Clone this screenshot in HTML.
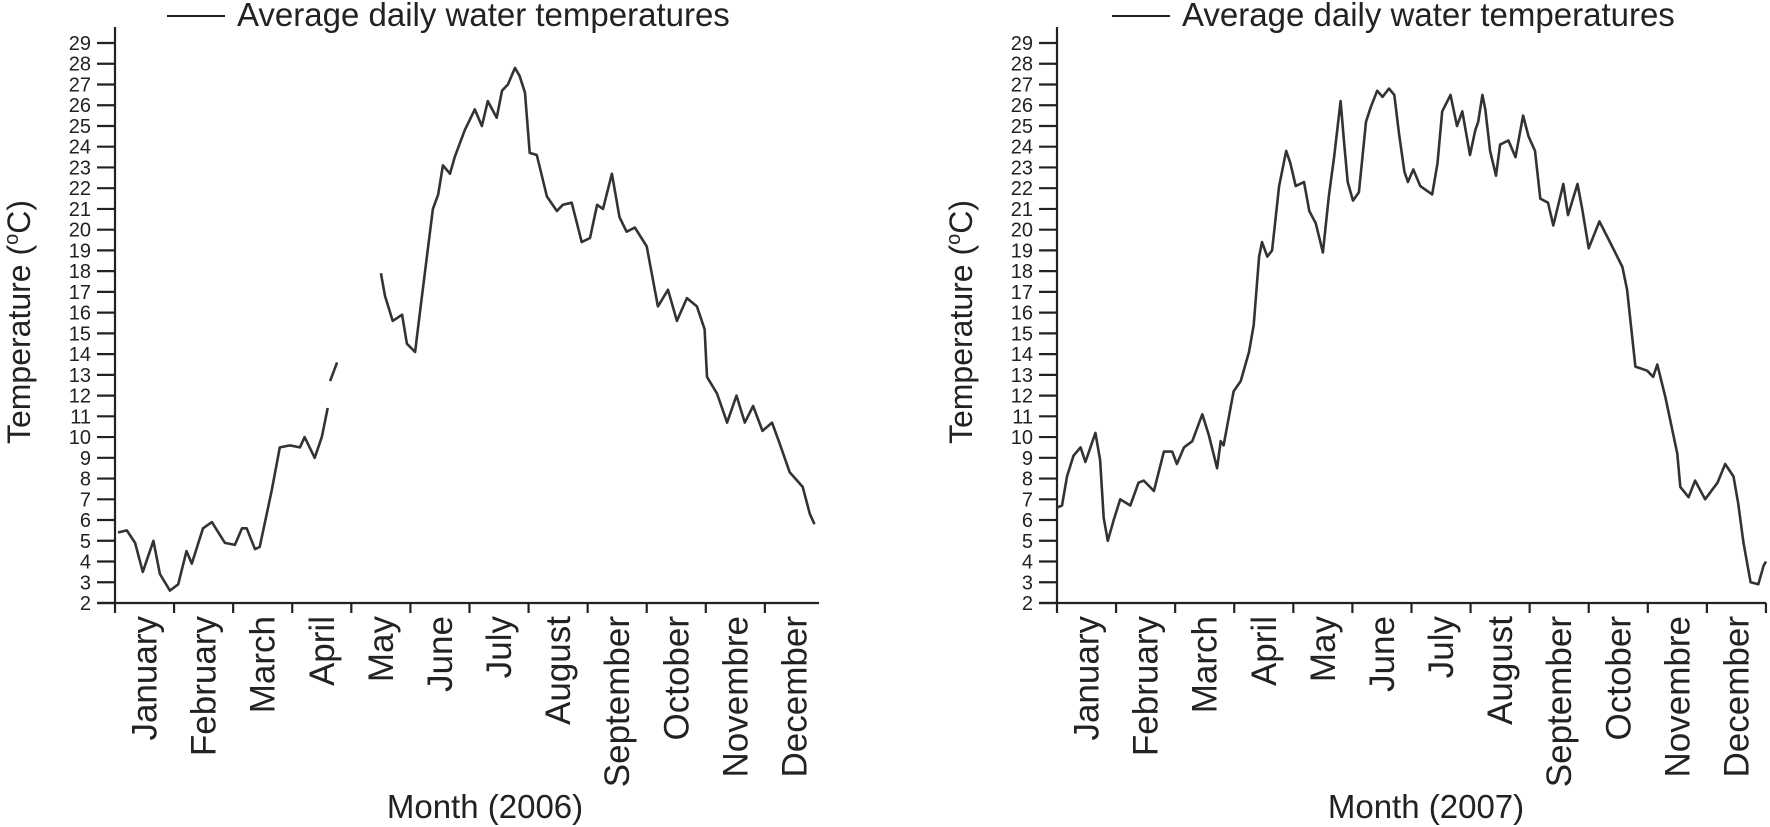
<!DOCTYPE html>
<html><head><meta charset="utf-8"><style>
html,body{margin:0;padding:0;background:#fff;}
svg{display:block;font-family:"Liberation Sans",Arial,sans-serif;}
</style></head><body>
<svg id="c" width="1770" height="827" viewBox="0 0 1770 827" xmlns="http://www.w3.org/2000/svg"></svg>
<script>
const months=["January","February","March","April","May","June","July","August","September","October","Novembre","December"];
const yTicks=[2,3,4,5,6,7,8,9,10,11,12,13,14,15,16,17,18,19,20,21,22,23,24,25,26,27,28,29];
// 2006: month position (0 = Jan 1), value °C; null = gap
const t2006=[0.05,0.2,0.34,0.47,0.65,0.76,0.93,1.07,1.21,1.30,1.49,1.64,1.86,2.03,2.15,2.23,2.37,2.45,2.65,2.79,2.96,3.13,3.21,3.38,3.50,3.60,null,3.64,3.76,null,4.50,4.57,4.70,4.86,4.94,5.08,5.16,5.28,5.38,5.47,5.55,5.67,5.75,5.92,6.09,6.21,6.31,6.46,6.55,6.65,6.77,6.85,6.94,7.02,7.14,7.31,7.48,7.58,7.73,7.90,8.04,8.16,8.26,8.41,8.54,8.66,8.80,9.0,9.19,9.36,9.51,9.68,9.85,9.98,10.02,10.19,10.36,10.52,10.66,10.8,10.96,11.12,11.25,11.42,11.64,11.76,11.84];
const v2006=[5.4,5.5,4.9,3.5,5.0,3.4,2.6,2.9,4.5,3.9,5.6,5.9,4.9,4.8,5.6,5.6,4.6,4.7,7.4,9.5,9.6,9.5,10.0,9.0,10.0,11.4,null,12.7,13.6,null,17.9,16.8,15.6,15.9,14.5,14.1,16.0,18.7,21.0,21.7,23.1,22.7,23.5,24.8,25.8,25.0,26.2,25.4,26.7,27.0,27.8,27.4,26.6,23.7,23.6,21.6,20.9,21.2,21.3,19.4,19.6,21.2,21.0,22.7,20.6,19.9,20.1,19.2,16.3,17.1,15.6,16.7,16.3,15.2,12.9,12.1,10.7,12.0,10.7,11.5,10.3,10.7,9.7,8.3,7.6,6.3,5.8];
// 2007
const t2007=[0,0.085,0.17,0.28,0.40,0.48,0.65,0.73,0.79,0.86,0.96,1.07,1.24,1.38,1.47,1.64,1.81,1.95,2.03,2.15,2.29,2.46,2.57,2.71,2.77,2.82,2.99,3.11,3.25,3.33,3.42,3.47,3.56,3.64,3.76,3.88,3.95,4.04,4.18,4.27,4.38,4.50,4.60,4.69,4.80,4.86,4.92,5.01,5.11,5.23,5.31,5.42,5.51,5.62,5.71,5.79,5.88,5.94,6.03,6.15,6.35,6.44,6.52,6.66,6.77,6.86,6.99,7.08,7.13,7.20,7.25,7.33,7.43,7.50,7.64,7.76,7.89,7.98,8.09,8.18,8.31,8.40,8.57,8.65,8.81,8.89,9.0,9.18,9.36,9.57,9.65,9.79,9.99,10.09,10.16,10.30,10.50,10.55,10.69,10.80,10.97,11.18,11.31,11.45,11.53,11.62,11.74,11.87,11.96,12.0];
const v2007=[6.6,6.7,8.1,9.1,9.5,8.8,10.2,8.9,6.1,5.0,6.0,7.0,6.7,7.8,7.9,7.4,9.3,9.3,8.7,9.5,9.8,11.1,10.1,8.5,9.8,9.6,12.2,12.7,14.1,15.4,18.7,19.4,18.7,19.0,22.1,23.8,23.2,22.1,22.3,20.9,20.3,18.9,21.6,23.5,26.2,24.2,22.3,21.4,21.8,25.2,25.9,26.7,26.4,26.8,26.5,24.6,22.8,22.3,22.9,22.1,21.7,23.2,25.7,26.5,25.0,25.7,23.6,24.8,25.2,26.5,25.8,23.8,22.6,24.1,24.3,23.5,25.5,24.5,23.8,21.5,21.3,20.2,22.2,20.7,22.2,21.0,19.1,20.4,19.4,18.2,17.1,13.4,13.2,12.9,13.5,11.9,9.2,7.6,7.1,7.9,7.0,7.8,8.7,8.1,6.8,4.9,3.0,2.9,3.8,4.0];

const NS="http://www.w3.org/2000/svg";
const svg=document.getElementById('c');
function mk(tag,attrs,parent){const e=document.createElementNS(NS,tag);for(const k in attrs)e.setAttribute(k,attrs[k]);(parent||svg).appendChild(e);return e;}

function chart(ax0,year,ts,vs,legX,titleX,ylabX,lastTick,axisEnd){
  const g=mk('g',{});
  
  
  const MW=59.08, y0=603, yPer=(603-43)/27;
  const X=m=>ax0+m*MW;
  const Y=v=>y0-(v-2)*yPer;
  const ya=mk('line',{x1:ax0,y1:27,x2:ax0,y2:y0+1,stroke:'#222','stroke-width':2.2},g);
  
  
  const xa=mk('line',{x1:ax0-18,y1:y0,x2:axisEnd,y2:y0,stroke:'#222','stroke-width':2.2},g);
  
  
  yTicks.forEach(v=>{
    const tk=mk('line',{x1:ax0-18,y1:Y(v),x2:ax0,y2:Y(v),stroke:'#222','stroke-width':2.2},g);
    
    
    const tl=mk('text',{x:ax0-24,y:Y(v)+7,'text-anchor':'end','font-size':20,fill:'#222'},g);
    
    
    tl.textContent=v;
  });
  for(let i=0;i<=lastTick;i++){
    const tk=mk('line',{x1:X(i),y1:y0,x2:X(i),y2:y0+10,stroke:'#222','stroke-width':2.2},g);
    
    
  }
  months.forEach((mn,i)=>{
    const cx=X(i+0.5)+12, cy=616;
    const t=mk('text',{x:cx,y:cy,'text-anchor':'end','font-size':35,fill:'#222',transform:`rotate(-90 ${cx} ${cy})`},g);
    
    
    t.textContent=mn;
  });
  let d='',pen=false;
  for(let i=0;i<ts.length;i++){
    if(ts[i]===null||vs[i]===null){pen=false;continue;}
    d+=(pen?'L':'M')+X(ts[i]).toFixed(1)+' '+Y(vs[i]).toFixed(1)+' ';pen=true;
  }
  const p=mk('path',{d:d,fill:'none',stroke:'#333','stroke-width':2.6,'stroke-linejoin':'round'},g);
  
  
  const lg=mk('g',{},g);
  
  
  mk('line',{x1:legX,y1:16,x2:legX+58,y2:16,stroke:'#222','stroke-width':2},lg);
  const lt=mk('text',{x:legX+70,y:26,'font-size':33,fill:'#222'},lg);
  
  
  lt.textContent='Average daily water temperatures';
  const xt=mk('text',{x:titleX,y:818,'text-anchor':'middle','font-size':33,fill:'#222'},g);
  
  
  xt.textContent='Month ('+year+')';
  const yt=mk('text',{x:ylabX,y:322,'text-anchor':'middle','font-size':32,fill:'#222',transform:`rotate(-90 ${ylabX} 322)`},g);
  
  
  yt.textContent='Temperature (';
  const sup=mk('tspan',{'font-size':20,dy:-12},yt);
  sup.textContent='o';
  const rest=mk('tspan',{dy:12},yt);
  rest.textContent='C)';
}
chart(115,2006,t2006,v2006,167,485,30,11,819);
chart(1057,2007,t2007,v2007,1112,1426,972,12,1766);
</script>
</body></html>
